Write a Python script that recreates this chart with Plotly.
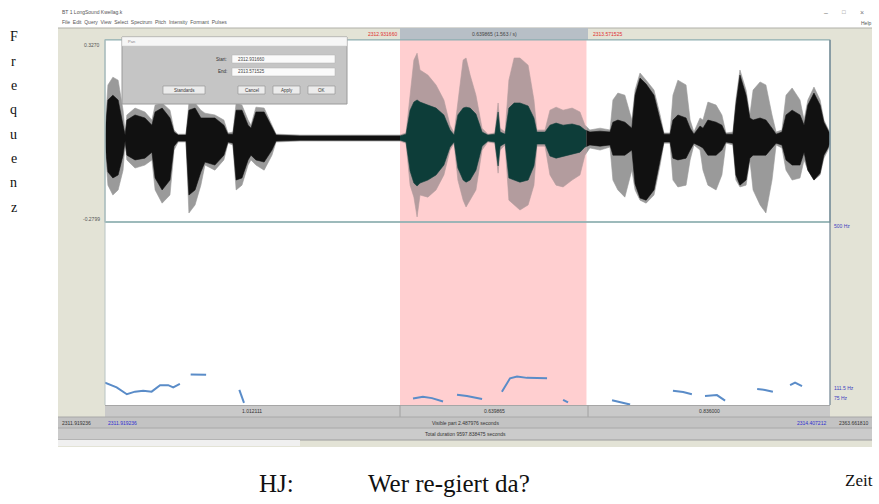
import numpy as np
import plotly.graph_objects as go

W, H = 879, 504

# ---------------- data ----------------
VISIBLE_DUR = 2.487976
SEL_START = 1.0124
SEL_DUR = 0.639865
AMP_MAX, AMP_MIN = 0.3270, -0.2799
F0_MIN, F0_MAX = 75, 500

wave_t = [0.000, 0.010, 0.027, 0.045, 0.062, 0.069, 0.075, 0.103, 0.137, 0.161,
          0.172, 0.196, 0.223, 0.237, 0.251, 0.278, 0.288, 0.309, 0.329, 0.343,
          0.377, 0.408, 0.422, 0.439, 0.450, 0.470, 0.491, 0.501, 0.518, 0.546,
          0.573, 0.587, 0.669, 0.841, 1.012, 1.033, 1.047, 1.060, 1.071, 1.081,
          1.108, 1.136, 1.163, 1.184, 1.198, 1.211, 1.229, 1.239, 1.253, 1.273,
          1.294, 1.314, 1.338, 1.349, 1.356, 1.373, 1.386, 1.404, 1.424, 1.452,
          1.472, 1.482, 1.510, 1.527, 1.548, 1.572, 1.603, 1.630, 1.647, 1.664,
          1.699, 1.733, 1.743, 1.760, 1.784, 1.808, 1.819, 1.836, 1.857, 1.884,
          1.905, 1.918, 1.939, 1.949, 1.966, 1.994, 2.008, 2.021, 2.042, 2.052,
          2.069, 2.097, 2.117, 2.131, 2.155, 2.165, 2.179, 2.200, 2.213, 2.224,
          2.248, 2.268, 2.289, 2.303, 2.323, 2.337, 2.358, 2.385, 2.399, 2.412,
          2.433, 2.454, 2.467, 2.481, 2.488]

wave_outer_up = [0.027, 0.177, 0.203, 0.193, 0.093, 0.017, 0.077, 0.100, 0.087, 0.060,
                 0.110, 0.117, 0.093, 0.027, 0.013, 0.013, 0.117, 0.117, 0.093, 0.083,
                 0.077, 0.060, 0.017, 0.020, 0.117, 0.110, 0.060, 0.043, 0.103, 0.100,
                 0.043, 0.013, 0.010, 0.010, 0.010, 0.017, 0.143, 0.260, 0.283, 0.227,
                 0.210, 0.177, 0.127, 0.043, 0.017, 0.127, 0.260, 0.267, 0.210, 0.143,
                 0.033, 0.013, 0.017, 0.117, 0.033, 0.020, 0.193, 0.267, 0.267, 0.243,
                 0.127, 0.027, 0.027, 0.093, 0.103, 0.093, 0.100, 0.087, 0.043, 0.027,
                 0.033, 0.027, 0.127, 0.150, 0.143, 0.060, 0.160, 0.217, 0.193, 0.160,
                 0.077, 0.017, 0.017, 0.143, 0.193, 0.177, 0.060, 0.020, 0.067, 0.060,
                 0.120, 0.110, 0.077, 0.017, 0.020, 0.127, 0.227, 0.160, 0.077, 0.160,
                 0.187, 0.177, 0.077, 0.020, 0.027, 0.143, 0.167, 0.127, 0.060, 0.127,
                 0.170, 0.127, 0.060, 0.033, 0.017]

wave_outer_lo = [-0.027, -0.157, -0.190, -0.173, -0.107, -0.017, -0.073, -0.100, -0.090, -0.073,
                 -0.173, -0.217, -0.190, -0.040, -0.013, -0.013, -0.250, -0.223, -0.157, -0.090,
                 -0.107, -0.073, -0.017, -0.023, -0.173, -0.157, -0.090, -0.073, -0.090, -0.107,
                 -0.057, -0.013, -0.010, -0.010, -0.010, -0.017, -0.157, -0.197, -0.263, -0.190,
                 -0.197, -0.173, -0.123, -0.040, -0.017, -0.140, -0.207, -0.230, -0.207, -0.173,
                 -0.040, -0.013, -0.017, -0.117, -0.040, -0.023, -0.207, -0.223, -0.240, -0.223,
                 -0.157, -0.027, -0.027, -0.123, -0.157, -0.163, -0.140, -0.123, -0.057, -0.033,
                 -0.040, -0.030, -0.140, -0.173, -0.197, -0.107, -0.173, -0.207, -0.217, -0.190,
                 -0.090, -0.017, -0.017, -0.140, -0.163, -0.157, -0.073, -0.023, -0.040, -0.107,
                 -0.157, -0.173, -0.123, -0.017, -0.023, -0.140, -0.163, -0.157, -0.073, -0.173,
                 -0.223, -0.250, -0.140, -0.023, -0.033, -0.107, -0.140, -0.133, -0.073, -0.107,
                 -0.140, -0.123, -0.067, -0.040, -0.017]

wave_inner_up = [0.013, 0.127, 0.143, 0.127, 0.043, 0.010, 0.060, 0.077, 0.067, 0.043,
                 0.087, 0.100, 0.067, 0.020, 0.010, 0.010, 0.093, 0.100, 0.067, 0.067,
                 0.067, 0.043, 0.013, 0.013, 0.093, 0.093, 0.043, 0.033, 0.087, 0.087,
                 0.033, 0.010, 0.007, 0.007, 0.007, 0.013, 0.093, 0.120, 0.127, 0.120,
                 0.110, 0.100, 0.077, 0.027, 0.010, 0.077, 0.100, 0.103, 0.100, 0.080,
                 0.020, 0.010, 0.013, 0.087, 0.020, 0.013, 0.100, 0.117, 0.117, 0.107,
                 0.067, 0.020, 0.020, 0.043, 0.050, 0.043, 0.047, 0.040, 0.027, 0.020,
                 0.023, 0.020, 0.053, 0.060, 0.053, 0.033, 0.143, 0.200, 0.180, 0.143,
                 0.060, 0.013, 0.013, 0.060, 0.077, 0.067, 0.033, 0.013, 0.040, 0.033,
                 0.060, 0.053, 0.043, 0.013, 0.013, 0.110, 0.210, 0.143, 0.067, 0.060,
                 0.067, 0.060, 0.033, 0.013, 0.020, 0.077, 0.093, 0.077, 0.043, 0.110,
                 0.150, 0.110, 0.053, 0.027, 0.013]

wave_inner_lo = [-0.013, -0.113, -0.133, -0.123, -0.057, -0.010, -0.057, -0.073, -0.067, -0.047,
                 -0.133, -0.173, -0.140, -0.027, -0.010, -0.010, -0.190, -0.173, -0.113, -0.080,
                 -0.090, -0.057, -0.013, -0.017, -0.140, -0.133, -0.073, -0.057, -0.073, -0.080,
                 -0.040, -0.010, -0.007, -0.007, -0.007, -0.013, -0.110, -0.150, -0.160, -0.150,
                 -0.140, -0.123, -0.090, -0.030, -0.013, -0.100, -0.140, -0.147, -0.140, -0.107,
                 -0.027, -0.010, -0.013, -0.093, -0.027, -0.017, -0.133, -0.140, -0.147, -0.140,
                 -0.093, -0.020, -0.020, -0.060, -0.067, -0.060, -0.053, -0.047, -0.030, -0.023,
                 -0.027, -0.023, -0.057, -0.057, -0.057, -0.040, -0.153, -0.200, -0.207, -0.173,
                 -0.073, -0.013, -0.013, -0.067, -0.073, -0.067, -0.040, -0.017, -0.027, -0.033,
                 -0.057, -0.057, -0.040, -0.013, -0.017, -0.123, -0.157, -0.140, -0.067, -0.057,
                 -0.057, -0.057, -0.033, -0.017, -0.023, -0.073, -0.090, -0.090, -0.047, -0.107,
                 -0.140, -0.117, -0.057, -0.033, -0.013]

# pitch contour (Hz), None separates voiced stretches
pitch_t = [0.000, 0.040, 0.075, 0.103, 0.131, 0.160, 0.189, 0.217, 0.234, 0.257, None,
           0.294, 0.347, None,
           0.461, 0.477, None,
           1.057, 1.091, 1.122, 1.160, None,
           1.208, 1.242, 1.294, None,
           1.362, 1.390, 1.414, 1.448, 1.517, None,
           1.572, 1.589, None,
           1.740, 1.767, 1.802, None,
           1.949, 1.984, 2.014, None,
           2.059, 2.100, 2.128, None,
           2.238, 2.265, 2.292, None,
           2.351, 2.368, 2.392]
pitch_hz = [127, 116, 100, 106, 108, 106, 121, 121, 116, 124, None,
            146, 145, None,
            110, 80, None,
            90, 94, 91, 83, None,
            99, 96, 89, None,
            106, 137, 141, 138, 137, None,
            87, 81, None,
            86, 81, 76, None,
            108, 105, 100, None,
            96, 98, 85, None,
            112, 110, 106, None,
            121, 127, 119]

seg_durations = ["1.012111", "0.639865", "0.836000"]
start_time_label = "2311.919236"
end_time_label = "2314.407212"
total_end_label = "2363.661810"
sel_start_label = "2312.931660"
sel_end_label = "2313.571525"

# ---------------- helpers ----------------
def px(x):
    return x / W

def py(y):
    return 1 - y / H

shapes = []

def rect(x0, y0, x1, y1, fill, line=None, lw=1, layer="below"):
    shapes.append(dict(type="rect", xref="paper", yref="paper",
                       x0=px(x0), x1=px(x1), y0=py(y1), y1=py(y0),
                       fillcolor=fill, layer=layer,
                       line=dict(color=line or fill, width=lw if line else 0)))

def hline(x0, x1, y, color, lw=1, layer="below"):
    shapes.append(dict(type="line", xref="paper", yref="paper",
                       x0=px(x0), x1=px(x1), y0=py(y), y1=py(y),
                       line=dict(color=color, width=lw), layer=layer))

def vline(x, y0, y1, color, lw=1, layer="below"):
    shapes.append(dict(type="line", xref="paper", yref="paper",
                       x0=px(x), x1=px(x), y0=py(y0), y1=py(y1),
                       line=dict(color=color, width=lw), layer=layer))

annots = []

def text(x, y, s, size=5, color="#333", anchor="center", family="Liberation Sans", yanchor="middle"):
    annots.append(dict(x=px(x), y=py(y), xref="paper", yref="paper", text=s,
                       showarrow=False, xanchor=anchor, yanchor=yanchor,
                       font=dict(size=size, color=color, family=family)))

def envelope(t, up, lo, t0, t1):
    t = np.asarray(t, float)
    up = np.asarray(up, float)
    lo = np.asarray(lo, float)
    inside = (t > t0) & (t < t1)
    tt = np.concatenate([[t0], t[inside], [t1]])
    uu = np.concatenate([[np.interp(t0, t, up)], up[inside], [np.interp(t1, t, up)]])
    ll = np.concatenate([[np.interp(t0, t, lo)], lo[inside], [np.interp(t1, t, lo)]])
    return list(tt) + list(tt[::-1]), list(uu) + list(ll[::-1])

SEL_END = SEL_START + SEL_DUR

# ---------------- figure ----------------
fig = go.Figure()

regions = [(0, SEL_START, "#9a9a9a", "#111111"),
           (SEL_START, SEL_END, "#b39c9e", "#0d3d39"),
           (SEL_END, VISIBLE_DUR, "#9a9a9a", "#111111")]
for t0, t1, c_out, c_in in regions:
    xo, yo = envelope(wave_t, wave_outer_up, wave_outer_lo, t0, t1)
    fig.add_trace(go.Scatter(x=xo, y=yo, fill="toself", fillcolor=c_out, mode="lines",
                             line=dict(width=0.6, color=c_out), hoverinfo="skip",
                             showlegend=False, xaxis="x", yaxis="y"))
    xi, yi = envelope(wave_t, wave_inner_up, wave_inner_lo, t0, t1)
    fig.add_trace(go.Scatter(x=xi, y=yi, fill="toself", fillcolor=c_in, mode="lines",
                             line=dict(width=0.6, color=c_in), hoverinfo="skip",
                             showlegend=False, xaxis="x", yaxis="y"))

fig.add_trace(go.Scatter(x=pitch_t, y=pitch_hz, mode="lines",
                         line=dict(color="#5a8cc8", width=2), connectgaps=False,
                         hoverinfo="skip", showlegend=False, xaxis="x", yaxis="y2"))

# ---- window chrome (below traces) ----
rect(58, 28, 872, 447, "#e3e3d6")
hline(58, 872, 28, "#b0b0a8")
rect(400, 28, 588, 40, "#b7bfc6")
hline(105, 830, 40, "#8aa9ad", 1.2)
rect(105, 40, 830, 222, "#ffffff")
rect(105, 222, 830, 405, "#ffffff")
shapes.append(dict(type="rect", xref="x", yref="paper", x0=SEL_START, x1=SEL_END,
                   y0=py(405), y1=py(40), fillcolor="#ffcfd0", layer="below", line=dict(width=0)))
# bottom bars
rect(105, 405, 830, 417, "#c9c9c9")
hline(105, 830, 405.5, "#a6a6a6")
vline(400, 405, 417, "#a0a0a0")
vline(588, 405, 417, "#a0a0a0")
rect(58, 417, 872, 428, "#c3c3c3")
hline(58, 872, 417, "#a8a8a8")
rect(58, 428, 872, 440, "#cbcbcb")
hline(58, 872, 428, "#a8a8a8")
hline(58, 872, 440, "#9c9c9c")
rect(58, 440, 300, 446, "#f0f0f0")

# panel borders (above traces)
shapes.append(dict(type="rect", xref="paper", yref="paper", x0=px(105), x1=px(830),
                   y0=py(222), y1=py(40), line=dict(color="#8fb0b2", width=1.2),
                   fillcolor="rgba(0,0,0,0)", layer="above"))
hline(105, 830, 222, "#8fb0b2", 1.6, layer="above")
vline(830, 40, 405, "#6f8290", 1.2, layer="above")
vline(105, 40, 405, "#b8c4c4", 1, layer="above")

# dialog box (above traces)
rect(122, 37, 347, 104, "#c5c5c5", "#9a9a9a", 1, layer="above")
rect(122, 37, 347, 46, "#f6f6f6", "#c8c8c8", 0.5, layer="above")
rect(232, 55, 335, 63, "#fafafa", "#b0b0b0", 0.5, layer="above")
rect(232, 68, 335, 76, "#fafafa", "#b0b0b0", 0.5, layer="above")
for bx0, bx1 in [(163, 205), (238, 265), (273, 300), (308, 335)]:
    rect(bx0, 86, bx1, 94, "#ececec", "#8e8e8e", 0.6, layer="above")

# ---- texts ----
text(60, 12, "BT 1 LongSound Kwellag.k", 5, "#555", "left")
text(60, 22, "File  Edit  Query  View  Select  Spectrum  Pitch  Intensity  Formant  Pulses", 5, "#555", "left")
text(826, 12, "–", 7, "#777")
text(844, 12, "□", 6, "#777")
text(862, 12, "×", 7, "#777")
text(866, 23, "Help", 5, "#555")

text(399, 34, sel_start_label, 5, "#e03030", "right")
text(494, 34, "0.639865 (1.563 / s)", 5, "#444")
text(591, 34, sel_end_label, 5, "#e03030", "left")

text(102, 45, "0.3270", 5, "#555", "right")
text(102, 219, "-0.2799", 5, "#555", "right")
text(832, 226, "500 Hz", 5, "#4040c0", "left")
text(832, 388, "111.5 Hz", 5, "#4040c0", "left")
text(832, 398, "75 Hz", 5, "#4040c0", "left")

text(252, 411, seg_durations[0], 5, "#333")
text(494, 411, seg_durations[1], 5, "#333")
text(709, 411, seg_durations[2], 5, "#333")
text(60, 422.5, start_time_label, 5, "#333", "left")
text(106, 422.5, start_time_label, 5, "#3030d0", "left")
text(465, 422.5, "Visible part 2.487976 seconds", 5, "#333")
text(828, 422.5, end_time_label, 5, "#3030d0", "right")
text(870, 422.5, total_end_label, 5, "#333", "right")
text(465, 434, "Total duration 9597.838475 seconds", 5, "#333")

# dialog texts
text(126, 41.5, "Pan", 4, "#888", "left")
text(229, 59, "Start:", 4.5, "#333", "right")
text(229, 72, "End:", 4.5, "#333", "right")
text(236, 59, sel_start_label, 4.5, "#444", "left")
text(236, 72, sel_end_label, 4.5, "#444", "left")
text(184, 90, "Standards", 4.5, "#333")
text(251.5, 90, "Cancel", 4.5, "#333")
text(286.5, 90, "Apply", 4.5, "#333")
text(321.5, 90, "OK", 4.5, "#333")

# outside labels
for i, ch in enumerate("Frequenz"):
    text(14, 37 + i * 24.3, ch, 14, "#111", family="Liberation Serif")
text(276.5, 483, "HJ:", 25, "#111", family="Liberation Serif")
text(448.5, 483, "Wer re-giert da?", 25, "#111", family="Liberation Serif")
text(859, 480, "Zeit", 17, "#111", family="Liberation Serif")

hidden = dict(visible=False, showgrid=False, zeroline=False, fixedrange=True)
fig.update_layout(
    width=W, height=H, margin=dict(l=0, r=0, t=0, b=0),
    paper_bgcolor="#ffffff", plot_bgcolor="rgba(0,0,0,0)",
    xaxis=dict(domain=[px(105), px(830)], range=[0, VISIBLE_DUR], **hidden),
    yaxis=dict(domain=[py(222), py(40)], range=[AMP_MIN, AMP_MAX], **hidden),
    yaxis2=dict(domain=[py(405), py(222)], range=[F0_MIN, F0_MAX], anchor="x", **hidden),
    shapes=shapes, annotations=annots, showlegend=False,
)
fig.write_html("out.html", config={"displayModeBar": False},
               post_script="document.body.style.margin='0px';document.body.style.overflow='hidden';")
